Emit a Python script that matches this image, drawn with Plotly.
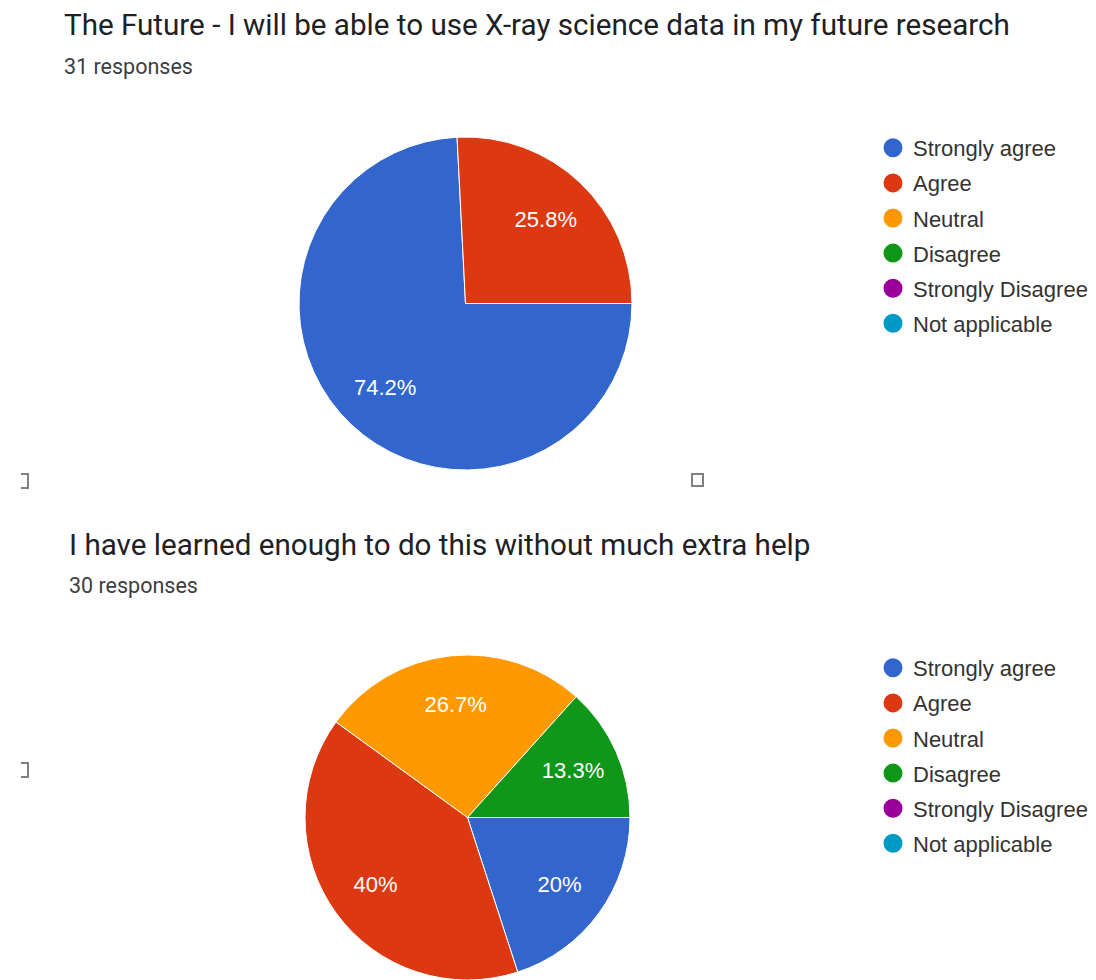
import plotly.graph_objects as go

# Response categories shared by both survey questions
categories = ["Strongly agree", "Agree", "Neutral", "Disagree",
              "Strongly Disagree", "Not applicable"]
colors = ["#3366cc", "#dc3912", "#ff9900", "#109618", "#990099", "#0099c6"]

q1_title = "The Future - I will be able to use X-ray science data in my future research"
q1_counts = [23, 8, 0, 0, 0, 0]

q2_title = "I have learned enough to do this without much extra help"
q2_counts = [6, 12, 8, 4, 0, 0]

W, H = 1096, 980


def px(x):
    return x / W


def py(y):
    return 1 - y / H


def pct_labels(counts):
    total = sum(counts)
    return [f"{round(100 * c / total, 1):g}%" if c else "" for c in counts]


fig = go.Figure()

common = dict(sort=False, direction="clockwise", rotation=90, showlegend=False)

def add_pie(counts, domain):
    # coloured slices
    fig.add_trace(go.Pie(
        labels=categories, values=counts, domain=domain,
        textinfo="none",
        marker=dict(colors=colors, line=dict(color="white", width=1)),
        hoverinfo="skip",
        **common,
    ))
    # transparent ring on top carrying the percentage labels, so that they
    # sit part-way out along each slice
    fig.add_trace(go.Pie(
        labels=categories, values=counts, domain=domain, hole=0.4,
        text=pct_labels(counts), textinfo="text",
        textposition="inside", insidetextorientation="horizontal",
        textfont=dict(family="Liberation Sans, Arial", size=22, color="white"),
        marker=dict(colors=["rgba(0,0,0,0)"] * len(categories),
                    line=dict(width=0)),
        hoverinfo="label+value+percent",
        **common,
    ))


add_pie(q1_counts, dict(x=[px(299), px(632)], y=[py(470), py(137)]))
add_pie(q2_counts, dict(x=[px(303), px(632)], y=[0, py(655)]))

# Legend entries with round markers, one legend per question
for legend_name in ("legend", "legend2"):
    for i, (cat, col) in enumerate(zip(categories, colors)):
        fig.add_trace(go.Scatter(
            x=[None], y=[None], mode="markers", name=cat,
            marker=dict(color=col, size=16, symbol="circle",
                        line=dict(color=col, width=3)),
            legend=legend_name, legendgroup=f"{legend_name}-{i}",
            hoverinfo="skip",
        ))

legend_style = dict(
    xanchor="left", yanchor="top",
    font=dict(family="Liberation Sans, Arial", size=22, color="#333333"),
    tracegroupgap=3.5, itemclick=False, itemdoubleclick=False,
    bgcolor="rgba(0,0,0,0)",
)

title_font = dict(family="Roboto", size=29.6, color="#202124")
sub_font = dict(family="Roboto", size=21.5, color="#3c4043")

annotations = [
    dict(text=q1_title, x=px(62), y=py(25), font=title_font),
    dict(text=f"{sum(q1_counts)} responses", x=px(62), y=py(66), font=sub_font),
    dict(text=q2_title, x=px(67), y=py(545), font=title_font),
    dict(text=f"{sum(q2_counts)} responses", x=px(67), y=py(585), font=sub_font),
]
for a in annotations:
    a.update(xref="paper", yref="paper", xanchor="left", yanchor="middle",
             showarrow=False)

# Small checkbox glyphs along the page edges
glyph_line = dict(color="#808080", width=2)
shapes = [
    dict(type="path", xref="paper", yref="paper", line=glyph_line,
         path=f"M{px(21)},{py(474)} L{px(28)},{py(474)} L{px(28)},{py(488)} L{px(21)},{py(488)}"),
    dict(type="path", xref="paper", yref="paper", line=glyph_line,
         path=f"M{px(21)},{py(763)} L{px(28)},{py(763)} L{px(28)},{py(777)} L{px(21)},{py(777)}"),
    dict(type="rect", xref="paper", yref="paper", line=glyph_line,
         x0=px(692), x1=px(703), y0=py(474), y1=py(486)),
]

fig.update_layout(
    width=W, height=H,
    margin=dict(l=0, r=0, t=0, b=0),
    paper_bgcolor="white", plot_bgcolor="white",
    xaxis=dict(visible=False), yaxis=dict(visible=False),
    legend=dict(x=px(873), y=py(127), **legend_style),
    legend2=dict(x=px(873), y=py(647), **legend_style),
    annotations=annotations,
    shapes=shapes,
)

fig.write_html("out.html")
